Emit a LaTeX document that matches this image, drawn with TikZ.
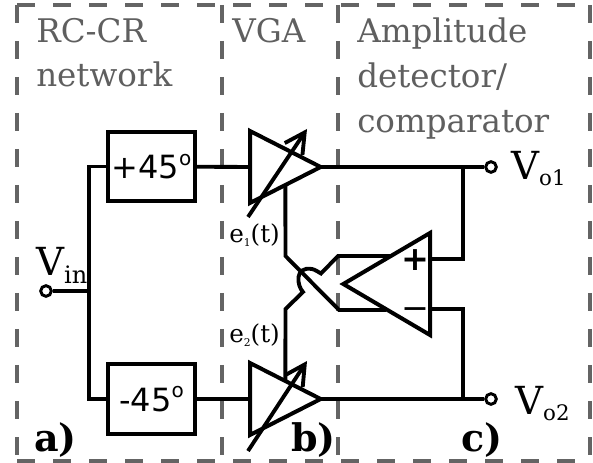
\documentclass[tikz,border=0pt]{standalone}
\usepackage{fontspec}
\setmainfont{DejaVu Serif}
\newfontfamily\dvsans{DejaVu Sans}
\usetikzlibrary{arrows.meta,shapes.geometric}
\definecolor{cLabel}{RGB}{95,95,95}
\definecolor{cFrame}{RGB}{100,100,100}
\newcommand{\subtxt}[3]{\raisebox{#1}{\fontsize{#2}{#2}\selectfont #3}}
\tikzset{
  frm/.style={draw=cFrame, line width=3pt, dash pattern=on 13.5pt off 13.5pt},
  ttl/.style={text=cLabel, font=\fontsize{24.4}{33.4}\selectfont, align=left, anchor=north west, inner sep=0pt},
  blk/.style={draw, line width=3.1pt, minimum width=65pt, minimum height=52pt, inner sep=0pt,
              font=\dvsans\fontsize{24}{25}\selectfont},
  amp/.style={draw, line width=3pt, isosceles triangle, isosceles triangle stretches, inner sep=0pt, outer sep=0pt},
  term/.style={circle, draw, fill=white, line width=2.2pt, minimum size=8pt, inner sep=0pt},
  wire/.style={line width=2.9pt},
  gain/.style={-{Straight Barb[length=15pt,width=16pt]}, line width=2.9pt},
  sgl/.style={anchor=base west, inner sep=0pt, font=\fontsize{29}{30}\selectfont},
  ctl/.style={anchor=base west, inner sep=0pt, font=\fontsize{18.5}{20}\selectfont},
  tag/.style={anchor=base west, inner sep=0pt, font=\bfseries\fontsize{28.5}{30}\selectfont},
  sgn/.style={inner sep=0pt, font=\dvsans\fontsize{25}{26}\selectfont},
}
\begin{document}
\begin{tikzpicture}[x=0.75pt, y=-0.75pt]
\useasboundingbox (0,0) rectangle (593,463);
% dashed frames
\draw[frm] (17,5) -- (590,5);
\draw[frm] (17,5) -- (17,461);
\draw[frm] (222,5) -- (222,461);
\draw[frm] (338,5) -- (338,461);
\draw[frm] (590,5) -- (590,461);
\draw[frm] (17,461) -- (590,461);

\node[ttl] (ttla) at (36,18) {RC-CR\\network};
\node[ttl] (ttlb) at (232,18) {VGA};
\node[ttl] (ttlc) at (357,18) {Amplitude\\detector/\\comparator};

\node[blk] (pl45) at (151.5,166.5) {+45\subtxt{10pt}{15}{o}};
\node[blk] (mn45) at (151.5,399) {-45\subtxt{10pt}{15}{o}};
\node[amp, minimum width=54pt, minimum height=53pt, anchor=lower side] (vga1) at (250,167) {};
\node[amp, minimum width=54pt, minimum height=53pt, anchor=lower side] (vga2) at (250,399) {};
\node[amp, shape border rotate=180, minimum width=76.5pt, minimum height=65pt, anchor=lower side] (cmp) at (430,284) {};

\node[term] (vin) at (46,291) {};
\node[term] (vo1) at (491,167) {};
\node[term] (vo2) at (491,399) {};
\node[sgl] (lin) at (36,276) {V\subtxt{-6pt}{18}{in}};
\node[sgl] (lo1) at (511,180) {V\subtxt{-4pt}{16}{o1}};
\node[sgl] (lo2) at (515,415) {V\subtxt{-4pt}{16}{o2}};
\node[ctl] (le1) at (229,243) {e\subtxt{-3pt}{8}{1}(t)};
\node[ctl] (le2) at (229,343) {e\subtxt{-3pt}{8}{2}(t)};
\node[sgn, font=\dvsans\bfseries\fontsize{25}{26}\selectfont] (cpl) at (415,260) {+};
\node[sgn] (cmi) at (415,314) {−};
\node[tag] (ta) at (34,451) {a)};
\node[tag] (tb) at (291,451) {b)};
\node[tag] (tc) at (461,451) {c)};

\coordinate (fork) at (89,291);
\coordinate (tap1) at (463,167);
\coordinate (tap2) at (463,399);
\coordinate (cin1) at (392,256);
\coordinate (cin2) at (386,310);
\coordinate (g1s) at (248,217);
\coordinate (g1e) at (307,129);
\coordinate (g2s) at (248,451);
\coordinate (g2e) at (307,361);

\draw[wire] (vin) -- (fork);
\draw[wire] (pl45.west) -| (fork) |- (mn45.west);
\draw[wire] (pl45) -- (vga1.lower side);
\draw[wire] (mn45) -- (vga2.lower side);
\draw[wire] (vga1.apex) -- (vo1);
\draw[wire] (vga2.apex) -- (vo2);
\draw[wire] (tap1) |- (430,259);
\draw[wire] (tap2) |- (430,309);
\draw[wire] (vga1.right side) -- (285.5,256) -- (339,310) -- (cin2);
\draw[wire] (vga2.left side) -- (285.5,309) -- (303,292)
  .. controls (297,286) and (294,266) .. (312,269)
  .. controls (316,270) and (318,272) .. (321,273.5) -- (338,256) -- (cin1);
\draw[gain] (g1s) -- (g1e);
\draw[gain] (g2s) -- (g2e);
\end{tikzpicture}
\end{document}
